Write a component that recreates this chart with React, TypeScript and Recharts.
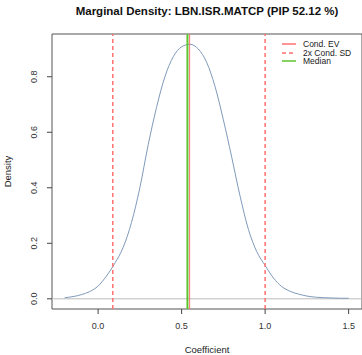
import {
  LineChart,
  Line,
  XAxis,
  YAxis,
  ReferenceLine,
  ReferenceArea,
  Label,
} from "recharts";

// coefficient grid and density
const coef = [
  -0.2, -0.15, -0.1, -0.05, 0.0, 0.05, 0.1, 0.15, 0.2, 0.25, 0.3, 0.35, 0.4,
  0.45, 0.5, 0.55, 0.6, 0.65, 0.7, 0.75, 0.8, 0.85, 0.9, 0.95, 1.0, 1.05, 1.1,
  1.15, 1.2, 1.25, 1.3, 1.35, 1.4, 1.45, 1.5,
];
const density = [
  0.004, 0.008, 0.015, 0.026, 0.046, 0.082, 0.128, 0.185, 0.275, 0.4, 0.555,
  0.69, 0.8, 0.872, 0.908, 0.917, 0.9, 0.852, 0.765, 0.645, 0.51, 0.37, 0.25,
  0.17, 0.12, 0.075, 0.044, 0.027, 0.017, 0.01, 0.006, 0.004, 0.003, 0.002,
  0.002,
];

const condEV = 0.548;
const sdLines = [0.088, 1.0];
const median = 0.535;

const xTicks = [0, 0.5, 1, 1.5];
const yTicks = [0, 0.2, 0.4, 0.6, 0.8];
const xDomain = [-0.276, 1.58];
const yDomain = [-0.0367, 0.954];

const legendItems = [
  { label: "Cond. EV", color: "#ff7070", dash: undefined },
  { label: "2x Cond. SD", color: "#ff7070", dash: "4 3" },
  { label: "Median", color: "#5cc42c", dash: undefined },
];

const data = coef.map((x, i) => ({ x, y: density[i] }));

const font = "'Liberation Sans', Arial, Helvetica, sans-serif";

function YTick(props: any) {
  const { x, y, payload } = props;
  return (
    <text
      x={x - 8}
      y={y}
      transform={`rotate(-90, ${x - 8}, ${y})`}
      textAnchor="middle"
      fontSize={9}
      fill="#333"
      fontFamily={font}
    >
      {payload.value.toFixed(1)}
    </text>
  );
}

function LegendBox() {
  return (
    <div
      style={{
        position: "absolute",
        top: 40,
        left: 278,
        fontFamily: font,
        fontSize: 8.5,
        lineHeight: "8.5px",
        color: "#222",
      }}
    >
      {legendItems.map((it) => (
        <div
          key={it.label}
          style={{ display: "flex", alignItems: "center", height: 8.5 }}
        >
          <svg width={20} height={8}>
            <line
              x1={4}
              x2={18}
              y1={4}
              y2={4}
              stroke={it.color}
              strokeWidth={1.5}
              strokeDasharray={it.dash}
            />
          </svg>
          <span style={{ marginLeft: 5 }}>{it.label}</span>
        </div>
      ))}
    </div>
  );
}

export default function App() {
  return (
    <div style={{ position: "relative", width: 362, height: 355, background: "#fff" }}>
      <style>{`body{margin:0}`}</style>
      <div
        style={{
          position: "absolute",
          top: 5,
          left: 52,
          width: 310,
          textAlign: "center",
          fontFamily: font,
          fontWeight: "bold",
          fontSize: 11.5,
          color: "#111",
        }}
      >
        Marginal Density: LBN.ISR.MATCP (PIP 52.12 %)
      </div>

      <LineChart
        width={362}
        height={355}
        data={data}
        margin={{ top: 34, right: 0, bottom: 0, left: 0 }}
      >
        <XAxis
          type="number"
          dataKey="x"
          domain={xDomain}
          ticks={xTicks}
          allowDataOverflow
          height={46}
          axisLine={false}
          tickSize={5}
          tickLine={{ stroke: "#444" }}
          tickMargin={9}
          tick={{ fontSize: 9, fill: "#333", fontFamily: font }}
          tickFormatter={(v) => v.toFixed(1)}
        >
          <Label
            value="Coefficient"
            position="insideBottom"
            offset={2}
            style={{ fontSize: 9.5, fill: "#222", fontFamily: font }}
          />
        </XAxis>
        <YAxis
          type="number"
          domain={yDomain}
          ticks={yTicks}
          allowDataOverflow
          width={52}
          axisLine={false}
          tickSize={5}
          tickLine={{ stroke: "#444" }}
          tick={<YTick />}
        >
          <Label
            value="Density"
            angle={-90}
            position="insideLeft"
            offset={8}
            style={{ fontSize: 9.5, fill: "#222", fontFamily: font, textAnchor: "middle" }}
          />
        </YAxis>

        <ReferenceLine y={0} stroke="#bbb" strokeWidth={1} />

        <Line
          type="monotone"
          dataKey="y"
          stroke="#7f9abb"
          strokeWidth={1}
          dot={false}
          isAnimationActive={false}
        />

        {sdLines.map((v) => (
          <ReferenceLine
            key={v}
            x={v}
            stroke="#ff7070"
            strokeWidth={1.5}
            strokeDasharray="4 3"
          />
        ))}
        <ReferenceLine x={median} stroke="#5cc42c" strokeWidth={2} />
        <ReferenceLine x={condEV} stroke="#ff7070" strokeWidth={1} />

        <ReferenceArea
          x1={xDomain[0]}
          x2={xDomain[1]}
          y1={yDomain[0]}
          y2={yDomain[1]}
          fill="none"
          stroke="#555"
          strokeWidth={1}
        />
      </LineChart>
      <LegendBox />
    </div>
  );
}
